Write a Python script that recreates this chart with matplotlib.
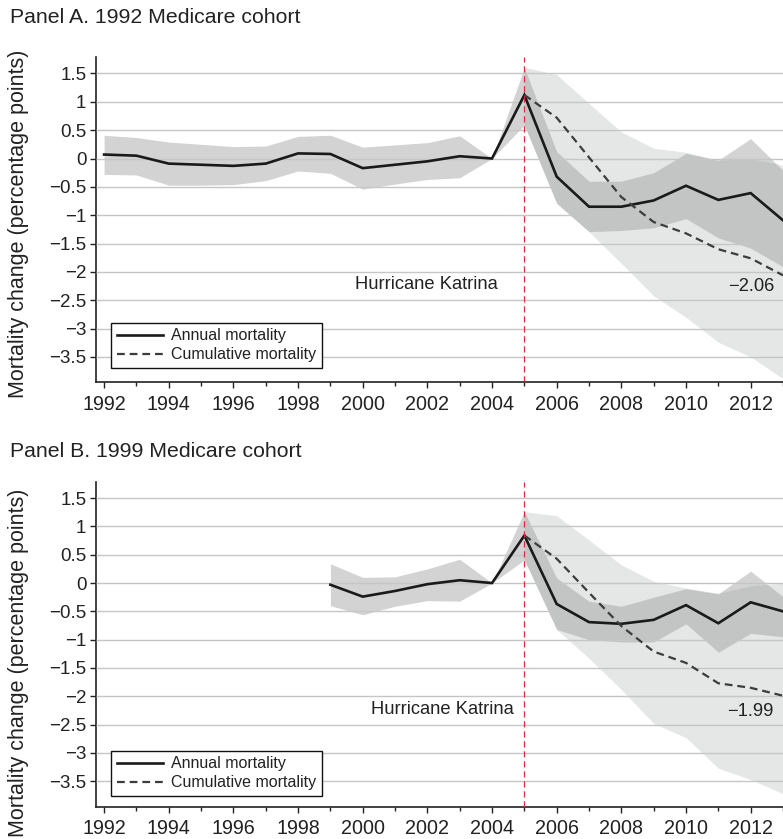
import numpy as np
import matplotlib
matplotlib.use('Agg')
from matplotlib import pyplot as plt
from matplotlib.ticker import FixedLocator, FuncFormatter

plt.rcParams['font.family'] = ['Liberation Sans', 'DejaVu Sans']

# Panel A: 1992 Medicare cohort
years_a = list(range(1992, 2014))
annual_a = [0.07, 0.05, -0.09, -0.11, -0.13, -0.09, 0.09, 0.08, -0.17, -0.11, -0.05,
            0.04, 0.0, 1.12, -0.32, -0.85, -0.85, -0.74, -0.48, -0.73, -0.61, -1.09]
annual_a_hi = [0.41, 0.37, 0.29, 0.25, 0.21, 0.22, 0.39, 0.41, 0.20, 0.24, 0.28,
               0.40, 0.0, 1.60, 0.12, -0.40, -0.40, -0.25, 0.09, -0.03, 0.35, -0.21]
annual_a_lo = [-0.28, -0.29, -0.47, -0.47, -0.46, -0.39, -0.22, -0.26, -0.54, -0.45, -0.37,
               -0.34, 0.0, 0.59, -0.79, -1.29, -1.27, -1.22, -1.06, -1.40, -1.58, -1.91]
cum_years_a = list(range(2005, 2014))
cum_a = [1.12, 0.72, 0.02, -0.68, -1.12, -1.32, -1.60, -1.76, -2.06]
cum_a_hi = [1.61, 1.48, 0.97, 0.47, 0.18, 0.11, -0.03, 0.0, -0.12]
cum_a_lo = [0.59, -0.79, -1.29, -1.85, -2.42, -2.80, -3.24, -3.50, -3.88]

# Panel B: 1999 Medicare cohort
years_b = list(range(1999, 2014))
annual_b = [-0.03, -0.24, -0.14, -0.02, 0.05, 0.0, 0.84, -0.37, -0.69, -0.72, -0.65,
            -0.39, -0.71, -0.34, -0.50]
annual_b_hi = [0.34, 0.10, 0.11, 0.25, 0.42, 0.0, 1.26, 0.09, -0.32, -0.41, -0.25,
               -0.10, -0.19, 0.21, -0.24]
annual_b_lo = [-0.40, -0.56, -0.41, -0.31, -0.32, 0.0, 0.41, -0.82, -1.00, -1.04, -1.04,
               -0.72, -1.22, -0.89, -0.95]
cum_years_b = list(range(2005, 2014))
cum_b = [0.84, 0.43, -0.17, -0.76, -1.21, -1.41, -1.77, -1.85, -1.99]
cum_b_hi = [1.26, 1.19, 0.76, 0.32, 0.03, -0.09, -0.18, -0.05, 0.0]
cum_b_lo = [0.41, -0.82, -1.33, -1.88, -2.48, -2.73, -3.27, -3.47, -3.72]

y_ticks = [1.5, 1, 0.5, 0, -0.5, -1, -1.5, -2, -2.5, -3, -3.5]
x_ticks = list(range(1992, 2014, 2))


def fmt_num(v, pos=None):
    return ('%g' % v).replace('-', '\u2212')


def draw_panel(ax, years, annual, lo, hi, cyears, cum, clo, chi, katrina_x, legend_y):
    ax.fill_between(cyears, clo, chi, color='#e5e6e6', lw=0, zorder=1)
    ax.fill_between(years, lo, hi, color='#969696', alpha=0.42, lw=0, zorder=1.2)
    l1, = ax.plot(years, annual, color='#1a1a1a', lw=1.9, zorder=3,
                  solid_joinstyle='miter', label='Annual mortality')
    l2, = ax.plot(cyears, cum, color='#3c3c3c', lw=1.6, ls=(0, (3.5, 2.2)), zorder=3,
                  label='Cumulative mortality')
    ax.axvline(2005, color='#dc2f3b', lw=0.9, ls=(0, (5, 3)), zorder=4)

    ax.set_xlim(1991.75, 2013.0)
    ax.set_ylim(-3.95, 1.79)
    ax.yaxis.set_major_locator(FixedLocator(y_ticks))
    ax.yaxis.set_major_formatter(FuncFormatter(fmt_num))
    ax.xaxis.set_major_locator(FixedLocator(x_ticks))
    ax.xaxis.set_minor_locator(FixedLocator(list(range(1993, 2014, 2))))
    ax.tick_params(axis='both', which='major', labelsize=13.5, direction='out',
                   length=4, width=1, colors='#222222', pad=3)
    ax.tick_params(axis='x', which='minor', direction='out', length=3, width=1,
                   colors='#222222')
    ax.tick_params(axis='x', which='major', pad=5, labelsize=14.2)
    for s in ['top', 'right']:
        ax.spines[s].set_visible(False)
    for s in ['left', 'bottom']:
        ax.spines[s].set_linewidth(1.2)
        ax.spines[s].set_color('#222222')
    ax.set_axisbelow(False)
    ax.grid(axis='y', color='#c6c6c6', lw=1.0, zorder=2)
    ax.grid(axis='x', visible=False)

    ax.text(katrina_x, -2.23, 'Hurricane Katrina', ha='right', va='center',
            fontsize=13.2, color='#222222')
    ax.text(2012.72, -2.26, fmt_num(cum[-1]), ha='right', va='center',
            fontsize=13.2, color='#222222')

    leg = ax.legend(handles=[l1, l2], loc='lower left', bbox_to_anchor=(0.022, legend_y),
                    borderaxespad=0, fontsize=11.5, handlelength=2.9, handletextpad=0.5,
                    labelspacing=0.25, borderpad=0.35, fancybox=False, framealpha=1,
                    edgecolor='#111111')
    leg.get_frame().set_linewidth(1.0)
    for t in leg.get_texts():
        t.set_color('#222222')


fig = plt.figure(figsize=(7.83, 8.39), dpi=100)
ax_a = fig.add_axes([96 / 783, 1 - 382.5 / 839, 687 / 783, 325.5 / 839])
ax_b = fig.add_axes([96 / 783, 1 - 806.7 / 839, 687 / 783, 325 / 839])

draw_panel(ax_a, years_a, annual_a, annual_a_lo, annual_a_hi,
           cum_years_a, cum_a, cum_a_lo, cum_a_hi, 2004.18, 0.045)
draw_panel(ax_b, years_b, annual_b, annual_b_lo, annual_b_hi,
           cum_years_b, cum_b, cum_b_lo, cum_b_hi, 2004.67, 0.033)

fig.text(10 / 783, 1 - 23 / 839, 'Panel A. 1992 Medicare cohort', fontsize=15.3,
         va='baseline', ha='left', color='#222222')
fig.text(10 / 783, 1 - 457 / 839, 'Panel B. 1999 Medicare cohort', fontsize=15.3,
         va='baseline', ha='left', color='#222222')
fig.text(19 / 783, 1 - 224 / 839, 'Mortality change (percentage points)', fontsize=15.5,
         rotation=90, va='center', ha='center', color='#222222')
fig.text(19 / 783, 1 - 663 / 839, 'Mortality change (percentage points)', fontsize=15.5,
         rotation=90, va='center', ha='center', color='#222222')

plt.savefig('out.png', dpi=100)
